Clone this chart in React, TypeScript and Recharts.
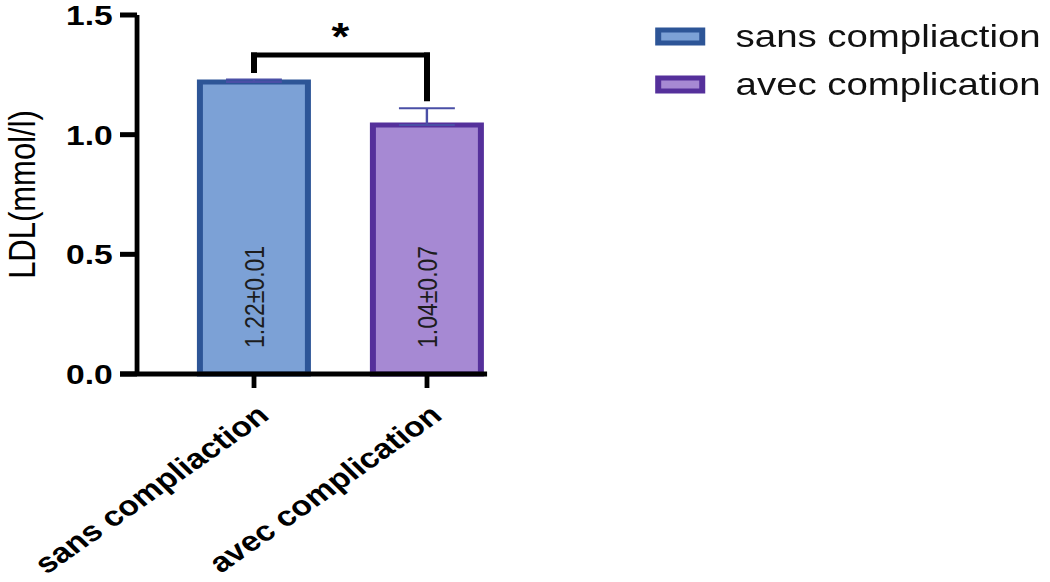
import { BarChart, Bar, XAxis, YAxis, Cell, ErrorBar, LabelList, ReferenceLine, Legend } from 'recharts';

const FONT = '"Liberation Sans", Arial, Helvetica, sans-serif';

// groups
const categories = ['sans compliaction', 'avec complication'];
const means = [1.22, 1.04];
const sems = [0.01, 0.07];
const fills = ['#7ca1d6', '#a689d3'];
const strokes = ['#2d5597', '#55309b'];
const yTicks = [0, 0.5, 1.0, 1.5];

// significance bracket (y values)
const bracketTop = 1.333;
const bracketLeftFoot = 1.268;
const bracketRightFoot = 1.15;

const data = categories.map((name, i) => ({
  name,
  mean: means[i],
  err: [0, sems[i]],
  text: `${means[i].toFixed(2)}±${sems[i].toFixed(2)}`,
}));

const ValueLabel = (props: any) => {
  const { x, y, width, height, value } = props;
  const cx = x + width / 2;
  const yb = y + height - 26;
  return (
    <text
      x={cx}
      y={yb}
      dy="0.35em"
      transform={`rotate(-90, ${cx}, ${yb})`}
      textAnchor="start"
      fontSize={23}
      fill="#1d1d1d"
    >
      {value}
    </text>
  );
};

const XTick = (props: any) => {
  const { x, y, payload } = props;
  return (
    <g transform={`translate(${x + 14},${y + 28})`}>
      <text textAnchor="end" transform="rotate(-40)" fontSize={28} fontWeight={700} fill="#000">
        {payload.value}
      </text>
    </g>
  );
};

// x axis baseline, drawn from the zero reference line
const AxisLine = (p: any) => (
  <line x1={p.x1 - 14.2} y1={p.y1} x2={p.x2 - 22} y2={p.y2} stroke="#000" strokeWidth={5} />
);

const LegendBox = () => (
  <svg width={340} height={100} style={{ overflow: 'visible' }}>
    {categories.map((c, i) => (
      <g key={c} transform={`translate(0, ${i * 48})`}>
        <rect x={2.5} y={5} width={36.7} height={13} fill={fills[i]} stroke={strokes[i]} strokeWidth={5} />
        <text x={67} y={22} fontSize={32} fill="#111">
          {c}
        </text>
      </g>
    ))}
  </svg>
);

export default function App() {
  return (
    <div
      style={{
        position: 'absolute',
        left: 0,
        top: 0,
        width: 875,
        height: 582,
        transform: 'scaleX(1.2)',
        transformOrigin: '0 0',
        fontFamily: FONT,
        background: '#fff',
      }}
    >
      <BarChart width={875} height={582} data={data} margin={{ top: 15, right: 447.1, bottom: 8, left: 0 }}>
        <YAxis
          domain={[0, 1.5]}
          ticks={yTicks}
          interval={0}
          width={114.2}
          tickSize={14.2}
          tickMargin={6}
          tickFormatter={(v: number) => v.toFixed(1)}
          tick={{ fontSize: 28, fontWeight: 700, fill: '#000' }}
          axisLine={{ stroke: '#000', strokeWidth: 4 }}
          tickLine={{ stroke: '#000', strokeWidth: 5 }}
          label={{
            value: 'LDL(mmol/l)',
            angle: -90,
            position: 'insideLeft',
            offset: 18,
            fontSize: 31,
            fill: '#000',
            style: { textAnchor: 'middle' },
          }}
        />
        <XAxis
          dataKey="name"
          height={200}
          interval={0}
          padding={{ left: 25.4, right: 0 }}
          axisLine={false}
          tickSize={14}
          tickMargin={2}
          tickLine={{ stroke: '#000', strokeWidth: 4 }}
          tick={<XTick />}
        />
        <Bar dataKey="mean" barSize={90} strokeWidth={5} isAnimationActive={false}>
          {data.map((d, i) => (
            <Cell key={d.name} fill={fills[i]} stroke={strokes[i]} />
          ))}
          <ErrorBar dataKey="err" direction="y" width={23.3} strokeWidth={2} stroke="#4a4fa6" />
          <LabelList dataKey="text" content={ValueLabel} />
        </Bar>
        <ReferenceLine y={0} shape={AxisLine} />
        <ReferenceLine
          segment={[{ x: categories[0], y: bracketLeftFoot }, { x: categories[0], y: bracketTop }]}
          stroke="#000"
          strokeWidth={5}
          strokeLinecap="square"
        />
        <ReferenceLine
          segment={[{ x: categories[1], y: bracketRightFoot }, { x: categories[1], y: bracketTop }]}
          stroke="#000"
          strokeWidth={5}
          strokeLinecap="square"
        />
        <ReferenceLine
          segment={[{ x: categories[0], y: bracketTop }, { x: categories[1], y: bracketTop }]}
          stroke="#000"
          strokeWidth={5}
          strokeLinecap="square"
          label={{ value: '*', position: 'top', offset: 5, fontSize: 38, fontWeight: 700, fill: '#000' }}
        />
        <Legend
          layout="vertical"
          align="center"
          verticalAlign="middle"
          content={LegendBox}
          wrapperStyle={{ left: 545.8, top: 25, width: 340, height: 100 }}
        />
      </BarChart>
    </div>
  );
}
